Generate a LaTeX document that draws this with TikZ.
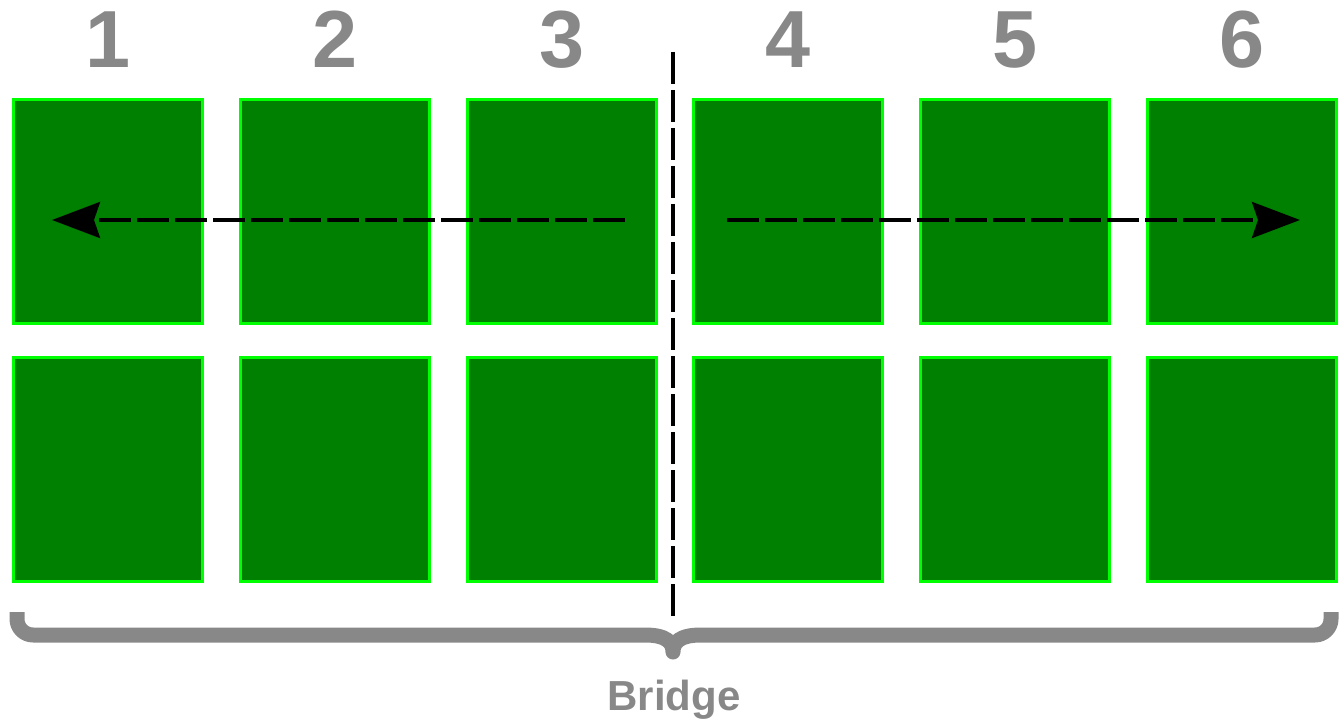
\documentclass[tikz,border=0pt]{standalone}
\usepackage{fontspec}
\setmainfont{Liberation Sans}
\usepackage{tikz}
\usetikzlibrary{arrows.meta}
\definecolor{cellgreen}{HTML}{008000}
\definecolor{celledge}{HTML}{00FF00}
\definecolor{labelgray}{HTML}{888888}
\tikzset{
  cell/.style={draw=celledge,fill=cellgreen,line width=3pt,minimum width=189pt,minimum height=224pt,inner sep=0pt},
  num/.style={text=labelgray,font=\fontsize{81}{81}\selectfont\bfseries,anchor=base,inner sep=0pt},
  splitline/.style={line width=3.5pt,dash pattern=on 32pt off 6pt},
  flow/.style={splitline,-{Stealth[length=48pt,width=36pt,inset=6pt]}},
  bracepath/.style={draw=labelgray,line width=15pt,line join=round}
}
\begin{document}
\begin{tikzpicture}[x=1pt,y=-1pt]
  \useasboundingbox (0,0) rectangle (1340,719);
      % upper row
      \node[cell] (u1) at (108,211.5) {};
      \node[cell] (u2) at (334.8,211.5) {};
      \node[cell] (u3) at (561.6,211.5) {};
      \node[cell] (u4) at (788.4,211.5) {};
      \node[cell] (u5) at (1015.2,211.5) {};
      \node[cell] (u6) at (1242,211.5) {};
      % lower row
      \node[cell] (d1) at (108,469.5) {};
      \node[cell] (d2) at (334.8,469.5) {};
      \node[cell] (d3) at (561.6,469.5) {};
      \node[cell] (d4) at (788.4,469.5) {};
      \node[cell] (d5) at (1015.2,469.5) {};
      \node[cell] (d6) at (1242,469.5) {};
      % column numbers
      \node[num] (n1) at (108,68) {1};
      \node[num] (n2) at (334.8,68) {2};
      \node[num] (n3) at (561.6,68) {3};
      \node[num] (n4) at (788.4,68) {4};
      \node[num] (n5) at (1015.2,68) {5};
      \node[num] (n6) at (1242,68) {6};
      % split line and flow arrows
      \coordinate (st) at (673,52);
      \coordinate (sb) at (673,617);
      \coordinate (la) at (625,220);
      \coordinate (lb) at (52,220);
      \coordinate (ra) at (727,220);
      \coordinate (rb) at (1300,220);
    \draw[splitline] (st) -- (sb);
    \draw[flow] (la) -- (lb);
    \draw[flow] (ra) -- (rb);
      % brace
    \draw[bracepath] (17,612) -- (17,619) arc[start angle=180,end angle=90,radius=16] -- (645,635)
        .. controls (666,635) and (673,642) .. (673,652)
        .. controls (673,642) and (680,635) .. (701,635) -- (1315,635)
        arc[start angle=90,end angle=0,radius=16] -- (1331,612);
      \node[text=labelgray,font=\fontsize{42}{42}\selectfont\bfseries,anchor=base,inner sep=0pt] (br) at (674,710) {Bridge};
    \end{tikzpicture}
\end{document}
